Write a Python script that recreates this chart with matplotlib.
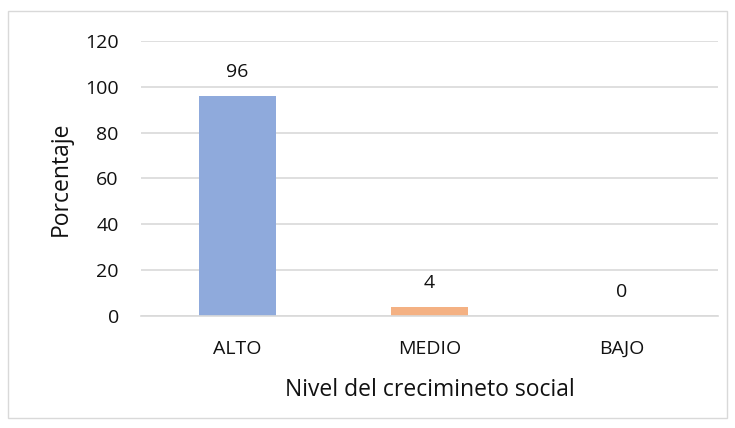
import matplotlib.pyplot as plt
from matplotlib.patches import Rectangle

categorias = ['ALTO', 'MEDIO', 'BAJO']
porcentajes = [96, 4, 0]
colores = ['#8FAADC', '#F4B183', '#A5A5A5']
yticks = [0, 20, 40, 60, 80, 100, 120]

plt.rcParams['font.family'] = ['Open Sans', 'DejaVu Sans']

fig = plt.figure(figsize=(7.35, 4.28), dpi=100)
# borde del grafico
fig.patches.append(Rectangle((8 / 735, 1 - 418 / 428), 719 / 735, 407 / 428,
                             transform=fig.transFigure, fill=False,
                             edgecolor='#d9d9d9', linewidth=1))

ax = fig.add_axes([141 / 735, 1 - 316 / 428, 577 / 735, 275 / 428])
x = range(len(categorias))
bars = ax.bar(x, porcentajes, width=0.4, color=colores, zorder=3)
for i, v in enumerate(porcentajes):
    ax.annotate(str(v), (i, v), xytext=(0, 24), textcoords='offset pixels',
                ha='center', va='center', fontsize=14, color='#111111')

ax.set_xlim(-0.5, 2.5)
ax.set_ylim(0, 120)
ax.set_yticks(yticks)
ax.set_xticks(list(x))
ax.set_xticklabels(categorias)
ax.grid(axis='y', color='#d9d9d9', linewidth=1.2, zorder=0)
for s in ['top', 'right', 'left']:
    ax.spines[s].set_visible(False)
ax.spines['bottom'].set_color('#d9d9d9')
ax.spines['bottom'].set_linewidth(1.2)
ax.spines['bottom'].set_zorder(4)
ax.tick_params(axis='both', length=0, labelsize=14, colors='#111111')
ax.tick_params(axis='x', pad=17)
ax.tick_params(axis='y', pad=16)
ax.set_xlabel('Nivel del crecimineto social', fontsize=16.5, color='#111111', labelpad=15)
ax.set_ylabel('Porcentaje', fontsize=16.5, color='#111111', labelpad=9)

fig.savefig('out.png', dpi=100)
